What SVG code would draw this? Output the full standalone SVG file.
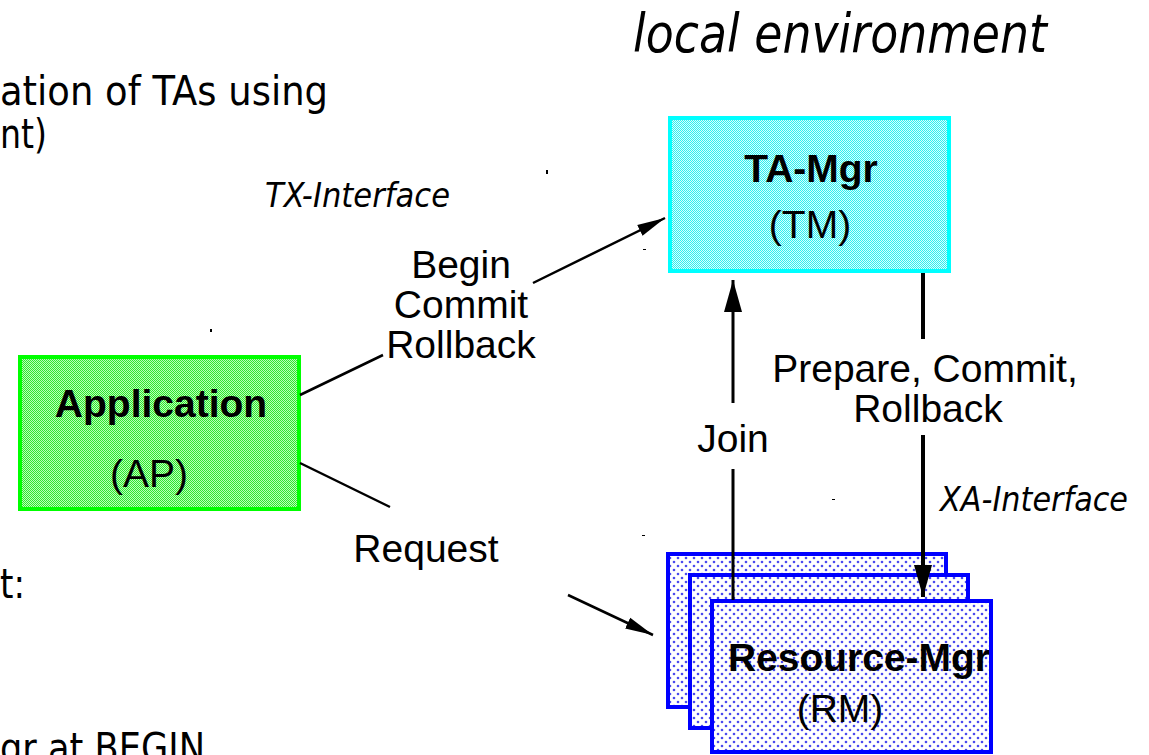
<svg xmlns="http://www.w3.org/2000/svg" width="1149" height="755" viewBox="0 0 1149 755">
<style>
.tah{font-family:"DejaVu Sans","Verdana",sans-serif;fill:#000}
.ar{font-family:"Liberation Sans",Arial,sans-serif;font-size:39px;fill:#000}
.b{font-weight:bold}
.it{font-style:italic}
.conn{fill:none;stroke:#000}
</style>
<defs>
<pattern id="pCyan" width="2" height="2" patternUnits="userSpaceOnUse">
<rect width="2" height="2" fill="#d8ffff"/>
<rect x="0" y="0" width="1" height="1" fill="#30eeee"/>
<rect x="1" y="1" width="1" height="1" fill="#30eeee"/>
</pattern>
<pattern id="pGreen" width="2" height="2" patternUnits="userSpaceOnUse">
<rect width="2" height="2" fill="#b8ffb8"/>
<rect x="0" y="0" width="1" height="1" fill="#2ee62e"/>
<rect x="1" y="1" width="1" height="1" fill="#2ee62e"/>
</pattern>
<pattern id="pDots" width="8" height="8" patternUnits="userSpaceOnUse">
<rect width="8" height="8" fill="#fff"/>
<circle cx="2" cy="2" r="1.3" fill="#4a4aee"/>
<circle cx="6" cy="6" r="1.3" fill="#4a4aee"/>
</pattern>
<marker id="ahS" markerUnits="userSpaceOnUse" markerWidth="30" markerHeight="14" viewBox="0 -7 30 14" refX="28" refY="0" orient="auto">
<path d="M0,-6 L28,0 L0,6 z" fill="#000"/>
</marker>
<marker id="ahV" markerUnits="userSpaceOnUse" markerWidth="34" markerHeight="20" viewBox="0 -10 34 20" refX="32" refY="0" orient="auto">
<path d="M0,-9 L32,0 L0,9 z" fill="#000"/>
</marker>
</defs>
<rect width="1149" height="755" fill="#fff"/>

<g id="side-text">
<text class="tah" x="0" y="105" font-size="40" textLength="328" lengthAdjust="spacingAndGlyphs">ation of TAs using</text>
<text class="tah" x="0" y="148" font-size="40" textLength="47" lengthAdjust="spacingAndGlyphs">nt)</text>
<text class="tah" x="0" y="598" font-size="41" textLength="25" lengthAdjust="spacingAndGlyphs">t:</text>
<text class="tah" x="0" y="762" font-size="41" textLength="205" lengthAdjust="spacingAndGlyphs">gr at BEGIN</text>
</g>

<g id="title">
<text class="tah it" x="633" y="52" font-size="53" textLength="414" lengthAdjust="spacingAndGlyphs">local environment</text>
</g>

<g id="tm">
<rect x="670" y="118" width="279" height="153" fill="url(#pCyan)" stroke="#00ffff" stroke-width="4"/>
<text class="ar b" x="811" y="182" text-anchor="middle">TA-Mgr</text>
<text class="ar" x="810" y="238" text-anchor="middle">(TM)</text>
</g>

<g id="ap">
<rect x="20" y="357" width="279" height="152" fill="url(#pGreen)" stroke="#00ff00" stroke-width="4"/>
<text class="ar b" x="161" y="417" text-anchor="middle">Application</text>
<text class="ar" x="110" y="487">(AP)</text>
</g>

<g id="rm">
<rect x="668" y="554" width="278" height="153" fill="url(#pDots)" stroke="#0000ff" stroke-width="4"/>
<rect x="690" y="575" width="278" height="153" fill="url(#pDots)" stroke="#0000ff" stroke-width="4"/>
<rect x="712" y="601" width="279" height="151" fill="url(#pDots)" stroke="#0000ff" stroke-width="4"/>
<text class="ar b" x="728" y="671" textLength="262" lengthAdjust="spacingAndGlyphs">Resource-Mgr</text>
<text class="ar" x="840" y="722" text-anchor="middle">(RM)</text>
</g>

<g id="connectors">
<path class="conn" stroke-width="2.5" d="M300,395 L383,355 M533,283 L665,218" marker-end="url(#ahS)"/>
<path class="conn" stroke-width="2.5" d="M300,463 L390,507 M568,595 L653,635" marker-end="url(#ahS)"/>
<path class="conn" stroke-width="3" d="M733,600 V469 M733,403 V280" marker-end="url(#ahV)"/>
<path class="conn" stroke-width="4" d="M923,273 V339 M923,435 V597" marker-end="url(#ahV)"/>
</g>

<g id="labels">
<text class="ar" x="461" y="278" text-anchor="middle">Begin</text>
<text class="ar" x="461" y="318" text-anchor="middle">Commit</text>
<text class="ar" x="461" y="358" text-anchor="middle">Rollback</text>
<text class="ar" x="426" y="562" text-anchor="middle">Request</text>
<text class="ar" x="733" y="452" text-anchor="middle">Join</text>
<text class="ar" x="925" y="382" text-anchor="middle">Prepare, Commit,</text>
<text class="ar" x="928" y="422" text-anchor="middle">Rollback</text>
<text class="tah it" x="265" y="207" font-size="34" textLength="185" lengthAdjust="spacingAndGlyphs">TX-Interface</text>
<text class="tah it" x="940" y="511" font-size="34" textLength="188" lengthAdjust="spacingAndGlyphs">XA-Interface</text>
</g>

<g id="specks" fill="#000">
<rect x="546" y="170" width="2" height="4"/>
<rect x="210" y="329" width="2" height="3"/>
<rect x="643" y="249" width="3" height="1"/>
<rect x="642" y="535" width="3" height="1"/>
<rect x="832" y="499" width="3" height="1"/>
</g>
</svg>
